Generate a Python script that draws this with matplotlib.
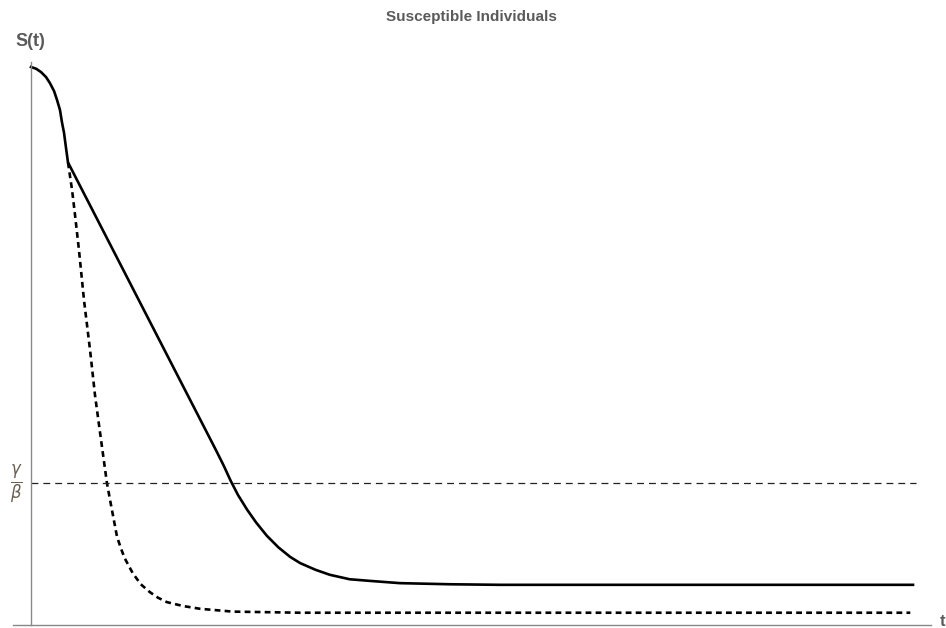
import matplotlib.pyplot as plt
from matplotlib import font_manager

# S(t) with delayed intervention (solid) and without (dotted)
t_solid = [0, 0.56, 1.11, 1.67, 2.11, 2.56, 2.89, 3.22, 3.44, 3.67, 3.89, 4.11,
           20.5, 21.4, 22.2, 23.0, 24.0, 25.0, 26.2, 27.5, 28.8, 29.9, 31.6, 33.2,
           35.4, 37.7, 41.0, 46.6, 52.1, 98.0]
s_solid = [1.000, 0.997, 0.991, 0.982, 0.971, 0.957, 0.941, 0.923, 0.901, 0.882,
           0.855, 0.829, 0.315, 0.286, 0.258, 0.233, 0.207, 0.184, 0.160, 0.139,
           0.122, 0.111, 0.099, 0.090, 0.082, 0.079, 0.075, 0.073, 0.072, 0.072]

t_dash = [4.11, 4.56, 4.89, 5.33, 5.89, 6.56, 7.11, 7.78, 8.44, 8.89, 9.56, 10.0,
          10.4, 10.9, 11.3, 12.2, 13.2, 14.1, 15.1, 16.9, 18.8, 22.4, 29.9, 97.7]
s_dash = [0.829, 0.780, 0.735, 0.672, 0.582, 0.493, 0.412, 0.332, 0.254, 0.215,
          0.158, 0.137, 0.120, 0.105, 0.093, 0.073, 0.059, 0.049, 0.041, 0.034,
          0.029, 0.024, 0.022, 0.022]

threshold = 0.254  # gamma / beta
t_end = 98.3

names = [f.name for f in font_manager.fontManager.ttflist]
fam = "Liberation Sans Narrow" if "Liberation Sans Narrow" in names else "Liberation Sans"
txt_col = "#5a5a5a"

fig = plt.figure(figsize=(9.46, 6.28), dpi=100)
ax = fig.add_axes([13 / 946, 3 / 628, 918 / 946, 563 / 628])
ax.set_xlim(-2, 100)
ax.set_ylim(0, 1.009)

ax.plot(t_solid, s_solid, color="black", lw=1.9, solid_joinstyle="round")
ax.plot(t_dash, s_dash, color="black", lw=1.9, linestyle=(0, (2.2, 1.6)))
ax.plot([0, t_end], [threshold, threshold], color="#222222", lw=0.9,
        linestyle=(0, (5.5, 4)))

for side in ["top", "right"]:
    ax.spines[side].set_visible(False)
ax.spines["left"].set_position(("data", 0))
ax.spines["left"].set_color("#888888")
ax.spines["bottom"].set_color("#888888")
ax.spines["left"].set_linewidth(1.0)
ax.spines["bottom"].set_linewidth(1.0)
ax.set_xticks([])
ax.set_yticks([])

fig.text(30 / 946, 1 - 42 / 628, "S(t)", ha="center", va="center",
         fontsize=13, fontweight="bold", color=txt_col, family=fam)
fig.text(943 / 946, 1 - 622 / 628, "t", ha="center", va="center",
         fontsize=12, fontweight="bold", color=txt_col, family=fam)
fig.text(471 / 946, 1 - 17 / 628, "Susceptible Individuals", ha="center",
         va="center", fontsize=11, fontweight="bold", color=txt_col, family=fam)
ax.text(-0.9, threshold, r"$\frac{\gamma}{\beta}$", ha="right", va="center",
        fontsize=17, color="#6b6050")

fig.savefig("out.png", dpi=100)
